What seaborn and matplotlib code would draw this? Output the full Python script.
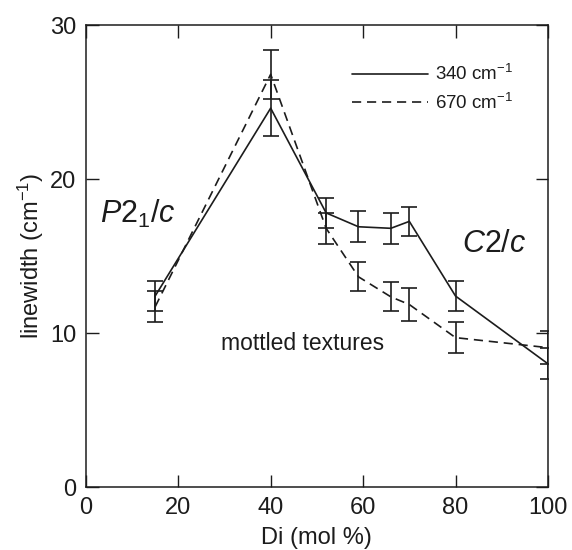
import matplotlib
matplotlib.use("Agg")
import matplotlib.pyplot as plt
import seaborn as sns
import pandas as pd

# ---- data ----
di = [15, 40, 52, 59, 66, 70, 80, 100]
w340 = [12.4, 24.6, 17.8, 16.9, 16.8, 17.25, 12.4, 8.0]
e340 = [1.0, 1.8, 1.0, 1.0, 1.0, 0.95, 1.0, 1.0]
w670 = [11.7, 26.8, 16.8, 13.65, 12.35, 11.85, 9.7, 9.05]
e670 = [1.0, 1.6, 1.0, 0.95, 0.95, 1.05, 1.0, 1.05]
label340 = r"340 cm$^{-1}$"
label670 = r"670 cm$^{-1}$"
xticks = [0, 20, 40, 60, 80, 100]
yticks = [0, 10, 20, 30]

sns.set_theme(style="ticks")
plt.rcParams["font.family"] = ["Liberation Sans", "DejaVu Sans"]
plt.rcParams["mathtext.fontset"] = "custom"
plt.rcParams["mathtext.rm"] = "Liberation Sans"
plt.rcParams["mathtext.it"] = "Liberation Sans:italic"

ink = "#1c1c1c"
lw = 1.2

fig = plt.figure(figsize=(5.72, 5.5), dpi=100)
ax = fig.add_axes([0.150, 0.1145, 0.808, 0.840])

df = pd.DataFrame({"di": di, "w340": w340, "w670": w670})
sns.lineplot(data=df, x="di", y="w340", ax=ax, color=ink, linewidth=lw,
             linestyle="-", label=label340)
sns.lineplot(data=df, x="di", y="w670", ax=ax, color=ink, linewidth=lw,
             linestyle=(0, (5.5, 3.5)), label=label670)

ax.errorbar(di, w340, yerr=e340, fmt="none", ecolor=ink, elinewidth=lw,
            capsize=6, capthick=lw)
ax.errorbar(di, w670, yerr=e670, fmt="none", ecolor=ink, elinewidth=lw,
            capsize=6, capthick=lw)

ax.set_xlim(0, 100)
ax.set_ylim(0, 30)
ax.set_xticks(xticks)
ax.set_yticks(yticks)
ax.tick_params(direction="in", length=9, width=1.0, colors=ink,
               labelsize=17, pad=7, top=True, right=True,
               labeltop=False, labelright=False)
for s in ax.spines.values():
    s.set_visible(True)
    s.set_linewidth(1.1)
    s.set_color(ink)

ax.set_xlabel("Di (mol %)", fontsize=17, color=ink, labelpad=6)
ax.set_ylabel(r"linewidth (cm$^{-1}$)", fontsize=17, color=ink, labelpad=3)

ax.text(3.0, 17.7, r"$\mathit{P2_1/c}$", fontsize=22, color=ink,
        ha="left", va="center")
ax.text(81.4, 15.8, r"$\mathit{C2/c}$", fontsize=22, color=ink,
        ha="left", va="center")
ax.text(47, 9.3, "mottled textures", fontsize=16.5, color=ink,
        ha="center", va="center")

leg = ax.legend(loc="upper left", bbox_to_anchor=(0.575, 0.915),
                frameon=False, handlelength=4.1, handletextpad=0.35,
                fontsize=13.5, borderpad=0, borderaxespad=0,
                labelspacing=0.45)
for t in leg.get_texts():
    t.set_color(ink)

fig.savefig("out.png", dpi=100)
